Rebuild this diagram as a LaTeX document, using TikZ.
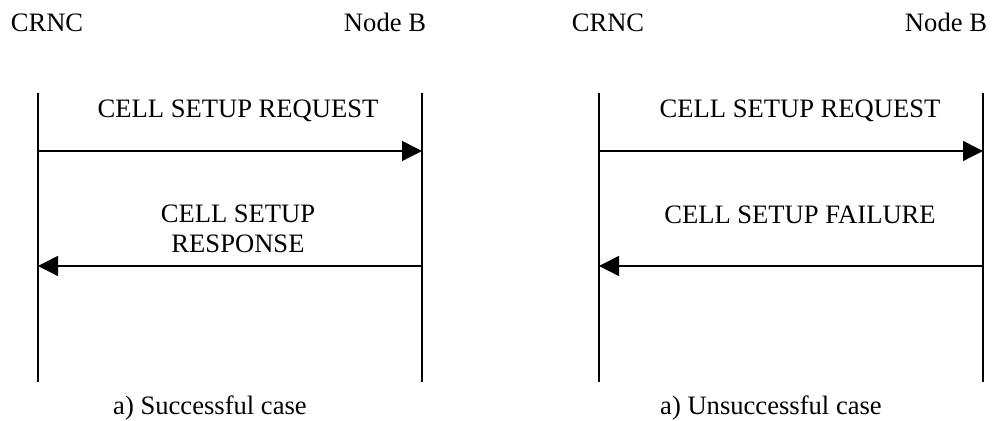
\documentclass[tikz,border=0pt]{standalone}
\usepackage{fontspec}
\setmainfont{Liberation Serif}
\usetikzlibrary{arrows.meta}

\begin{document}
\begin{tikzpicture}[x=0.5pt,y=0.5pt,font=\fontsize{13.3}{15}\selectfont,
    every node/.style={anchor=base},
    lifeline/.style={line width=0.8pt},
    msg/.style={line width=0.7pt,-{Triangle[length=10pt,width=10pt]}}]
        \useasboundingbox (0,0) rectangle (993,421);

        % Left: successful case
        \node (crncA) at (47,389) {CRNC};
        \node (nodebA) at (385,389) {Node B};
        \coordinate (crncAtop) at (38,328);
        \coordinate (crncAbot) at (38,39);
        \coordinate (nodebAtop) at (422,328);
        \coordinate (nodebAbot) at (422,39);
        \draw[lifeline] (crncAtop) -- (crncAbot);
        \draw[lifeline] (nodebAtop) -- (nodebAbot);

        % Messages
        \coordinate (reqAs) at (38,270);
        \coordinate (reqAe) at (422,270);
        \coordinate (rspAs) at (422,155);
        \coordinate (rspAe) at (38,155);
        \draw[msg] (reqAs) -- (reqAe);
        \draw[msg] (rspAs) -- (rspAe);
        \node (reqA) at (238,303) {CELL SETUP REQUEST};
        \node[align=center] (rspA) at (238,168) {CELL SETUP\\RESPONSE};
        \node (capA) at (210,6) {a) Successful case};

        % Right: unsuccessful case
        \node (crncB) at (608,389) {CRNC};
        \node (nodebB) at (946,389) {Node B};
        \coordinate (crncBtop) at (599,328);
        \coordinate (crncBbot) at (599,39);
        \coordinate (nodebBtop) at (983,328);
        \coordinate (nodebBbot) at (983,39);
        \draw[lifeline] (crncBtop) -- (crncBbot);
        \draw[lifeline] (nodebBtop) -- (nodebBbot);

        % Messages
        \coordinate (reqBs) at (599,270);
        \coordinate (reqBe) at (983,270);
        \coordinate (flrBs) at (983,155);
        \coordinate (flrBe) at (599,155);
        \draw[msg] (reqBs) -- (reqBe);
        \draw[msg] (flrBs) -- (flrBe);
        \node (reqB) at (800,303) {CELL SETUP REQUEST};
        \node (flrB) at (800,197) {CELL SETUP FAILURE};
        \node (capB) at (771,6) {a) Unsuccessful case};
    \end{tikzpicture}
\end{document}
